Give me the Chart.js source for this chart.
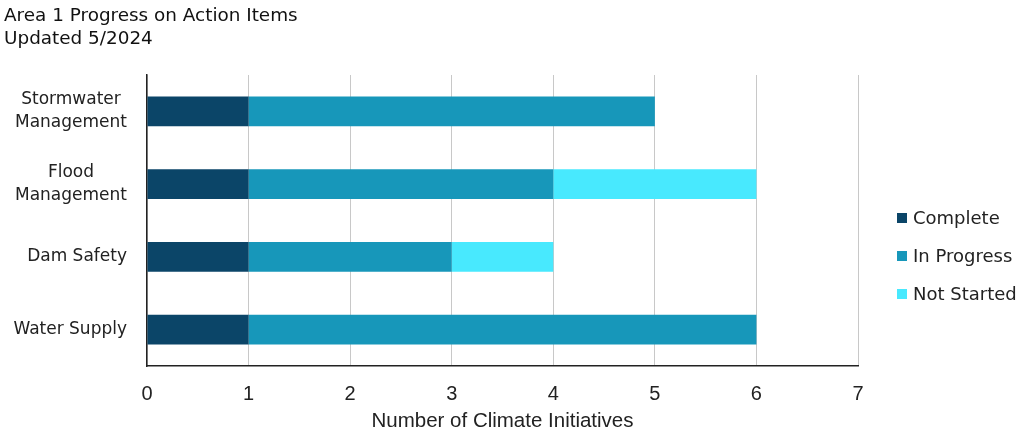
<!DOCTYPE html>
<html>
<head>
<meta charset="utf-8">
<script src="https://cdn.jsdelivr.net/npm/chart.js@4"></script>
<style>
  html, body { margin: 0; padding: 0; background: #fff; }
  #wrap { width: 1018px; height: 432px; }
</style>
</head>
<body>
<div id="wrap"><canvas id="progressChart"></canvas></div>
<script>
const categories = [["Stormwater", "Management"], ["Flood", "Management"], "Dam Safety", "Water Supply"];
const complete = [1, 1, 1, 1];
const inProgress = [4, 3, 2, 5];
const notStarted = [0, 2, 1, 0];
const xTicks = [0, 1, 2, 3, 4, 5, 6, 7];

const labelFont = "'DejaVu Sans', Tahoma, sans-serif";
const narrowFont = "'Liberation Sans Narrow', 'Arial Narrow', sans-serif";

// category labels: each block right aligned, lines centred inside the block
const categoryLabels = {
  id: "categoryLabels",
  afterDraw(chart) {
    const ctx = chart.ctx;
    const yScale = chart.scales.y;
    const right = 127;
    const lineH = 23;
    ctx.save();
    ctx.font = "17px " + labelFont;
    ctx.fillStyle = "#222";
    ctx.textAlign = "center";
    ctx.textBaseline = "middle";
    chart.data.labels.forEach((lab, i) => {
      const lines = Array.isArray(lab) ? lab : [lab];
      const w = Math.max(...lines.map(l => ctx.measureText(l).width));
      const cx = right - w / 2;
      const cy = yScale.getPixelForTick(i);
      lines.forEach((l, j) => {
        ctx.fillText(l, cx, cy + (j - (lines.length - 1) / 2) * lineH);
      });
    });
    ctx.restore();
  }
};

// legend drawn by hand so it sits where the original one does
const sideLegend = {
  id: "sideLegend",
  afterDraw(chart) {
    const ctx = chart.ctx;
    const x = 897;
    const y0 = 218;
    ctx.save();
    ctx.font = "18px " + labelFont;
    ctx.textBaseline = "middle";
    chart.data.datasets.forEach((ds, i) => {
      const y = y0 + i * 38;
      ctx.fillStyle = ds.backgroundColor;
      ctx.fillRect(x, y - 5, 10, 10);
      ctx.fillStyle = "#222";
      ctx.fillText(ds.label, x + 16, y + 1);
    });
    ctx.restore();
  }
};

new Chart(document.getElementById("progressChart"), {
  type: "bar",
  data: {
    labels: categories,
    datasets: [
      { label: "Complete", data: complete, backgroundColor: "#0b4568" },
      { label: "In Progress", data: inProgress, backgroundColor: "#1797ba" },
      { label: "Not Started", data: notStarted, backgroundColor: "#48e9fe" }
    ]
  },
  options: {
    indexAxis: "y",
    responsive: true,
    maintainAspectRatio: false,
    animation: false,
    categoryPercentage: 1,
    barPercentage: 0.41,
    layout: { padding: { top: 0, right: 160, bottom: 0, left: 4 } },
    plugins: {
      legend: { display: false },
      tooltip: { enabled: false },
      title: {
        display: true,
        text: ["Area 1 Progress on Action Items", "Updated 5/2024"],
        align: "start",
        color: "#111",
        font: { family: labelFont, size: 18.4, weight: "normal", lineHeight: 1.25 },
        padding: { top: 5, bottom: 24 }
      }
    },
    scales: {
      x: {
        stacked: true,
        min: 0,
        max: 7,
        afterBuildTicks: axis => { axis.ticks = xTicks.map(v => ({ value: v })); },
        grid: { color: "#c8c8c8", drawTicks: false },
        border: { color: "#222", width: 1.5 },
        ticks: { color: "#222", padding: 16, font: { family: narrowFont, size: 20 } },
        title: {
          display: true,
          text: "Number of Climate Initiatives",
          color: "#222",
          font: { family: narrowFont, size: 20.5, lineHeight: 1 },
          padding: { top: 4, bottom: 0 }
        },
        afterFit: axis => { axis.height = 66; }
      },
      y: {
        stacked: true,
        grid: { display: false },
        border: { color: "#222", width: 1.5 },
        ticks: { display: false },
        afterFit: axis => { axis.width = 143; }
      }
    }
  },
  plugins: [categoryLabels, sideLegend]
});
</script>
</body>
</html>
